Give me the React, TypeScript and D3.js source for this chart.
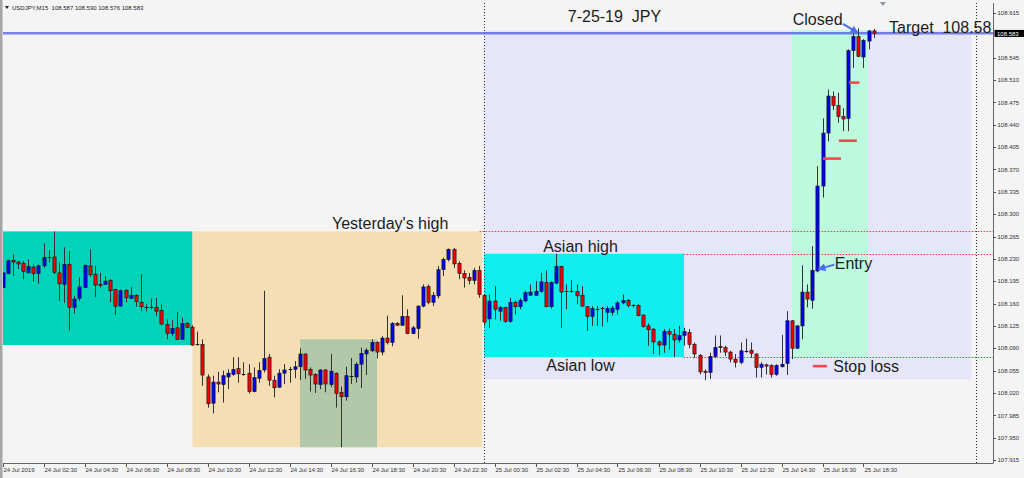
import React from "react";
import * as d3 from "d3";

const W = 1024;
const H = 478;

// OHLC per 15-minute bar, bar 0 = 24 Jul 2019 00:30
const opens = [
  108.185, 108.207, 108.228, 108.225, 108.223, 108.208, 108.217, 108.207, 108.219, 108.233,
  108.233, 108.208, 108.190, 108.221, 108.154, 108.168, 108.185, 108.219, 108.206, 108.190,
  108.190, 108.196, 108.182, 108.156, 108.181, 108.168, 108.173, 108.162, 108.155, 108.155,
  108.154, 108.149, 108.127, 108.113, 108.122, 108.104, 108.129, 108.123, 108.097, 108.096,
  108.045, 108.004, 108.037, 108.033, 108.045, 108.049, 108.058, 108.050, 108.051, 108.022,
  108.043, 108.056, 108.076, 108.040, 108.029, 108.051, 108.057, 108.057, 108.061, 108.081,
  108.057, 108.049, 108.033, 108.056, 108.033, 108.051, 108.021, 108.014, 108.047, 108.045,
  108.065, 108.081, 108.086, 108.099, 108.084, 108.106, 108.099, 108.129, 108.126, 108.140,
  108.113, 108.121, 108.156, 108.187, 108.162, 108.172, 108.213, 108.229, 108.245, 108.223,
  108.207, 108.201, 108.196, 108.212, 108.173, 108.136, 108.164, 108.148, 108.154, 108.132,
  108.162, 108.155, 108.164, 108.173, 108.173, 108.179, 108.193, 108.155, 108.192, 108.218,
  108.179, 108.180, 108.179, 108.173, 108.155, 108.140, 108.152, 108.152, 108.146, 108.146,
  108.151, 108.161, 108.165, 108.157, 108.157, 108.142, 108.125, 108.120, 108.100, 108.095,
  108.116, 108.112, 108.103, 108.110, 108.115, 108.096, 108.079, 108.054, 108.052, 108.077,
  108.093, 108.091, 108.084, 108.073, 108.068, 108.086, 108.087, 108.081, 108.060, 108.064,
  108.063, 108.049, 108.061, 108.066, 108.133, 108.090, 108.125, 108.178, 108.165, 108.211,
  108.344, 108.427, 108.484, 108.470, 108.453, 108.450, 108.556, 108.578, 108.546, 108.571,
  108.587,
];
const highs = [
  108.209, 108.229, 108.237, 108.227, 108.227, 108.229, 108.221, 108.221, 108.254, 108.244,
  108.273, 108.224, 108.248, 108.242, 108.172, 108.201, 108.221, 108.245, 108.219, 108.208,
  108.203, 108.198, 108.183, 108.182, 108.182, 108.186, 108.174, 108.206, 108.159, 108.168,
  108.169, 108.159, 108.135, 108.134, 108.147, 108.138, 108.131, 108.126, 108.116, 108.104,
  108.049, 108.047, 108.053, 108.055, 108.057, 108.076, 108.076, 108.068, 108.065, 108.060,
  108.068, 108.180, 108.081, 108.047, 108.057, 108.065, 108.061, 108.070, 108.090, 108.082,
  108.060, 108.051, 108.057, 108.057, 108.081, 108.052, 108.030, 108.061, 108.075, 108.068,
  108.091, 108.090, 108.104, 108.101, 108.109, 108.141, 108.131, 108.131, 108.173, 108.151,
  108.125, 108.157, 108.190, 108.190, 108.178, 108.219, 108.232, 108.246, 108.247, 108.226,
  108.212, 108.208, 108.216, 108.219, 108.174, 108.174, 108.187, 108.156, 108.155, 108.169,
  108.165, 108.168, 108.180, 108.190, 108.195, 108.208, 108.212, 108.195, 108.238, 108.219,
  108.190, 108.197, 108.190, 108.187, 108.156, 108.156, 108.156, 108.155, 108.156, 108.156,
  108.164, 108.174, 108.167, 108.159, 108.159, 108.143, 108.129, 108.121, 108.102, 108.120,
  108.121, 108.120, 108.125, 108.122, 108.120, 108.099, 108.081, 108.057, 108.083, 108.110,
  108.110, 108.094, 108.086, 108.081, 108.099, 108.105, 108.099, 108.082, 108.068, 108.066,
  108.065, 108.065, 108.111, 108.148, 108.134, 108.126, 108.220, 108.190, 108.250, 108.375,
  108.450, 108.495, 108.492, 108.490, 108.466, 108.558, 108.583, 108.591, 108.574, 108.588,
  108.590,
];
const lows = [
  108.184, 108.206, 108.203, 108.214, 108.198, 108.208, 108.194, 108.191, 108.216, 108.224,
  108.206, 108.164, 108.161, 108.118, 108.144, 108.164, 108.184, 108.202, 108.170, 108.185,
  108.190, 108.162, 108.142, 108.155, 108.162, 108.167, 108.155, 108.148, 108.148, 108.151,
  108.141, 108.126, 108.104, 108.109, 108.103, 108.103, 108.122, 108.094, 108.094, 108.031,
  107.997, 107.988, 108.021, 108.005, 108.026, 108.047, 108.036, 108.047, 108.019, 108.021,
  108.036, 108.052, 108.031, 108.013, 108.028, 108.034, 108.036, 108.043, 108.040, 108.042,
  108.022, 108.020, 108.026, 108.021, 108.029, 107.997, 107.935, 108.008, 108.034, 108.036,
  108.028, 108.048, 108.084, 108.074, 108.079, 108.096, 108.093, 108.125, 108.125, 108.112,
  108.112, 108.105, 108.154, 108.159, 108.156, 108.168, 108.203, 108.226, 108.216, 108.198,
  108.185, 108.190, 108.190, 108.169, 108.125, 108.122, 108.135, 108.133, 108.130, 108.130,
  108.143, 108.151, 108.162, 108.172, 108.172, 108.177, 108.154, 108.152, 108.190, 108.122,
  108.151, 108.177, 108.159, 108.155, 108.117, 108.125, 108.125, 108.124, 108.131, 108.141,
  108.143, 108.159, 108.154, 108.154, 108.140, 108.122, 108.094, 108.081, 108.079, 108.083,
  108.088, 108.076, 108.099, 108.094, 108.090, 108.075, 108.049, 108.040, 108.042, 108.075,
  108.083, 108.078, 108.068, 108.060, 108.065, 108.083, 108.075, 108.044, 108.044, 108.049,
  108.044, 108.047, 108.060, 108.048, 108.073, 108.089, 108.104, 108.154, 108.152, 108.209,
  108.326, 108.414, 108.463, 108.443, 108.430, 108.430, 108.529, 108.546, 108.529, 108.558,
  108.576,
];
const closes = [
  108.208, 108.227, 108.225, 108.222, 108.210, 108.218, 108.207, 108.219, 108.232, 108.232,
  108.209, 108.191, 108.221, 108.154, 108.167, 108.186, 108.220, 108.205, 108.189, 108.188,
  108.195, 108.180, 108.156, 108.180, 108.169, 108.173, 108.163, 108.155, 108.154, 108.155,
  108.148, 108.128, 108.113, 108.121, 108.104, 108.129, 108.123, 108.095, 108.096, 108.048,
  108.003, 108.037, 108.034, 108.047, 108.051, 108.057, 108.050, 108.050, 108.022, 108.044,
  108.055, 108.074, 108.040, 108.028, 108.051, 108.056, 108.058, 108.061, 108.081, 108.056,
  108.048, 108.034, 108.056, 108.034, 108.054, 108.019, 108.014, 108.047, 108.047, 108.065,
  108.082, 108.087, 108.099, 108.084, 108.106, 108.099, 108.129, 108.126, 108.140, 108.113,
  108.122, 108.156, 108.186, 108.162, 108.173, 108.213, 108.229, 108.245, 108.222, 108.207,
  108.200, 108.196, 108.212, 108.174, 108.131, 108.164, 108.151, 108.154, 108.132, 108.162,
  108.155, 108.165, 108.177, 108.178, 108.179, 108.194, 108.155, 108.193, 108.218, 108.178,
  108.179, 108.179, 108.172, 108.156, 108.140, 108.152, 108.152, 108.153, 108.152, 108.153,
  108.161, 108.165, 108.157, 108.157, 108.141, 108.124, 108.119, 108.100, 108.095, 108.116,
  108.112, 108.103, 108.110, 108.116, 108.096, 108.081, 108.053, 108.052, 108.077, 108.091,
  108.091, 108.084, 108.073, 108.068, 108.086, 108.086, 108.082, 108.060, 108.065, 108.062,
  108.049, 108.063, 108.065, 108.133, 108.090, 108.125, 108.178, 108.167, 108.212, 108.344,
  108.427, 108.485, 108.470, 108.453, 108.449, 108.556, 108.578, 108.547, 108.572, 108.587,
  108.583,
];

const xTickBars = [0, 8, 16, 24, 32, 40, 48, 56, 64, 72, 80, 88, 96, 104, 112, 120, 128, 136, 144, 152, 160, 168];
const xTickLabels = [
  "24 Jul 2019", "24 Jul 02:30", "24 Jul 04:30", "24 Jul 06:30", "24 Jul 08:30", "24 Jul 10:30",
  "24 Jul 12:30", "24 Jul 14:30", "24 Jul 16:30", "24 Jul 18:30", "24 Jul 20:30", "24 Jul 22:30",
  "25 Jul 00:30", "25 Jul 02:30", "25 Jul 04:30", "25 Jul 06:30", "25 Jul 08:30", "25 Jul 10:30",
  "25 Jul 12:30", "25 Jul 14:30", "25 Jul 16:30", "25 Jul 18:30",
];
const yTicks = [
  108.615, 108.545, 108.51, 108.475, 108.44, 108.405, 108.37, 108.335, 108.3, 108.265,
  108.23, 108.195, 108.16, 108.125, 108.09, 108.055, 108.02, 107.985, 107.95, 107.915,
];
const currentPrice = 108.583;
const headerText = "USDJPY,M15  108.587 108.590 108.576 108.583";
const periodSeparators = [94, 190]; // 25 Jul 00:00, 26 Jul 00:00
const shiftMarkerBar = 171.7;

// Zones (bar index from/to, price top/bottom)
const zones = [
  { from: -2, to: 36.98, top: 108.273, bottom: 108.095, fill: "#00d3b7" },
  { from: 36.98, to: 93.46, top: 108.273, bottom: 107.935, fill: "#f5deb3" },
  { from: 57.95, to: 72.98, top: 108.104, bottom: 107.935, fill: "#b1c9a9" },
  { from: 93.85, to: 188.9, top: 108.588, bottom: 108.0416, fill: "#e6e6fa" },
  { from: 93.85, to: 132.88, top: 108.238, bottom: 108.076, fill: "#12eeee" },
  { from: 153.95, to: 168.78, top: 108.588, bottom: 108.076, fill: "#bcf9de" },
];
// Dotted level lines: price and starting bar
const levelLines = [
  { price: 108.273, from: 93 },
  { price: 108.238, from: 132.8 },
  { price: 108.076, from: 132.8 },
];
// Trailing stop dashes
const stopMarks = [
  { price: 108.387, from: 160.0, to: 163.5 },
  { price: 108.415, from: 163.1, to: 166.6 },
  { price: 108.506, from: 165.1, to: 167.1 },
  { price: 108.062, from: 158.0, to: 160.8 },
];
const labels = [
  { text: "7-25-19  JPY", bar: 110.2, price: 108.601 },
  { text: "Closed", bar: 154.1, price: 108.596 },
  { text: "Target  108.58", bar: 172.9, price: 108.584 },
  { text: "Yesterday's high", bar: 64.2, price: 108.277 },
  { text: "Asian high", bar: 105.4, price: 108.241 },
  { text: "Entry", bar: 162.3, price: 108.214 },
  { text: "Asian low", bar: 106.0, price: 108.054 },
  { text: "Stop loss", bar: 162.0, price: 108.053 },
];
const arrows = [
  { x1: 163.9, p1: 108.598, x2: 166.8, p2: 108.584 },
  { x1: 162.2, p1: 108.221, x2: 159.1, p2: 108.2135 },
];

const FONT = "'Liberation Sans', Arial, sans-serif";
const pre = { whiteSpace: "pre" as const };

export default function App() {
  const left = 3, right = 993, top = 3, bottom = 463;
  const x = d3.scaleLinear().domain([0, 190]).range([3, 976.75]);
  const y = d3.scaleLinear().domain([107.915, 108.615]).range([460, 13]);

  const candles = opens.map((o, i) => {
    const c = closes[i];
    const cx = Math.floor(x(i)) + 0.5;
    const yo = y(o), yc = y(c);
    const yt = Math.min(yo, yc), yb = Math.max(yo, yc);
    const doji = yb - yt < 0.8;
    const color = c >= o ? "#0000f0" : "#f00000";
    return (
      <g key={i}>
        <line x1={cx} x2={cx} y1={y(highs[i])} y2={y(lows[i])} stroke="#333" strokeWidth={1} />
        {doji ? (
          <line x1={cx - 1.8} x2={cx + 1.8} y1={Math.round(yt) + 0.5} y2={Math.round(yt) + 0.5} stroke="#111" strokeWidth={1} />
        ) : (
          <rect x={cx - 1.6} y={yt} width={3.2} height={yb - yt} fill={color} stroke="#111" strokeWidth={0.6} />
        )}
      </g>
    );
  });

  const sx = x(shiftMarkerBar);

  return (
    <svg width={W} height={H} style={{ position: "absolute", left: 0, top: 0, background: "#f4f4f4" }} xmlns="http://www.w3.org/2000/svg">
      <defs>
        <clipPath id="plot">
          <rect x={left} y={top} width={right - left} height={bottom - top} />
        </clipPath>
        <marker id="arr" viewBox="0 0 10 10" refX="9" refY="5" markerWidth="4" markerHeight="4" orient="auto">
          <path d="M0,0 L10,5 L0,10 z" fill="#4a6ef2" />
        </marker>
      </defs>
      <rect x={0} y={0} width={W} height={H} fill="#f4f4f4" />
      <rect x={0} y={0} width={2.5} height={H} fill="#a6a6a6" />

      <g clipPath="url(#plot)">
        {zones.map((z, i) => (
          <rect key={i} x={x(z.from)} y={y(z.top)} width={x(z.to) - x(z.from)} height={y(z.bottom) - y(z.top)} fill={z.fill} />
        ))}
        {periodSeparators.map((b, i) => (
          <line key={i} x1={Math.floor(x(b)) + 0.5} x2={Math.floor(x(b)) + 0.5} y1={top} y2={bottom} stroke="#333" strokeWidth={1} strokeDasharray="1,2" />
        ))}
        {levelLines.map((l, i) => (
          <line key={i} x1={x(l.from)} x2={right} y1={Math.round(y(l.price)) + 0.5} y2={Math.round(y(l.price)) + 0.5} stroke="#f03a3a" strokeWidth={1} strokeDasharray="1.5,1.5" />
        ))}
        <line x1={left} x2={right} y1={y(currentPrice) - 0.5} y2={y(currentPrice) - 0.5} stroke="#2a2ad0" strokeWidth={1} />
        <line x1={left} x2={right} y1={y(currentPrice) + 0.5} y2={y(currentPrice) + 0.5} stroke="#5c6cf0" strokeWidth={1} />
        {candles}
        {stopMarks.map((s, i) => (
          <line key={i} x1={x(s.from)} x2={x(s.to)} y1={y(s.price)} y2={y(s.price)} stroke="#f24a4a" strokeWidth={2.6} />
        ))}
        {arrows.map((a, i) => (
          <line key={i} x1={x(a.x1)} y1={y(a.p1)} x2={x(a.x2)} y2={y(a.p2)} stroke="#4a6ef2" strokeWidth={2} markerEnd="url(#arr)" />
        ))}
      </g>
      {labels.map((l, i) => (
        <text key={i} x={x(l.bar)} y={y(l.price)} fontFamily={FONT} fontSize={16} fill="#1c1c1c" style={pre}>
          {l.text}
        </text>
      ))}

      {/* header */}
      <path d="M5,6 L9,6 L7,9 z" fill="#222" />
      <text x={12} y={10} fontFamily={FONT} fontSize={6} fill="#222" style={pre}>{headerText}</text>
      {/* shift marker */}
      <path d={`M${sx - 3},2 L${sx + 3},2 L${sx},6 z`} fill="#8a98aa" />

      {/* axes */}
      <line x1={right + 0.5} x2={right + 0.5} y1={top} y2={bottom} stroke="#666" strokeWidth={1} />
      <line x1={left} x2={right + 0.5} y1={bottom + 0.5} y2={bottom + 0.5} stroke="#666" strokeWidth={1} />
      {yTicks.map((v, i) => (
        <g key={i}>
          <line x1={right} x2={right + 3} y1={Math.round(y(v)) + 0.5} y2={Math.round(y(v)) + 0.5} stroke="#555" />
          <text x={right + 4.5} y={y(v) + 2.2} fontFamily={FONT} fontSize={6} fill="#333">
            {v.toFixed(3)}
          </text>
        </g>
      ))}
      <rect x={right + 1.5} y={y(currentPrice) - 3.5} width={30} height={7} fill="#000" />
      <text x={right + 4} y={y(currentPrice) + 2.2} fontFamily={FONT} fontSize={6} fill="#fff">
        {currentPrice.toFixed(3)}
      </text>
      {xTickBars.map((b, i) => (
        <g key={i}>
          <line x1={Math.floor(x(b)) + 0.5} x2={Math.floor(x(b)) + 0.5} y1={bottom} y2={bottom + 4} stroke="#555" />
          <text x={x(b) + 0.5} y={472} fontFamily={FONT} fontSize={6} fill="#333">
            {xTickLabels[i]}
          </text>
        </g>
      ))}
    </svg>
  );
}
